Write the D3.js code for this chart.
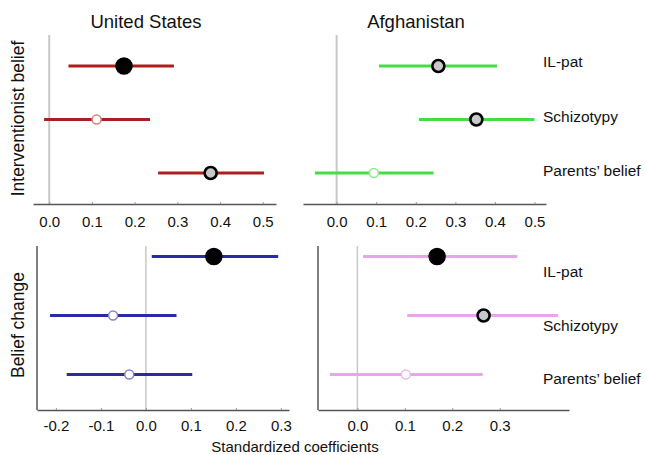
<!DOCTYPE html>
<html>
<head>
<meta charset="utf-8">
<script src="https://cdn.jsdelivr.net/npm/d3@7"></script>
<style>
body { margin: 0; background: #fff; }
text { font-family: "Liberation Sans", Arial, sans-serif; fill: #111; }
</style>
</head>
<body>
<svg width="646" height="455"></svg>
<script>
var svg = d3.select("svg");

var predictors = ["IL-pat", "Schizotypy", "Parents\u2019 belief"];

// estimates and 95% intervals, one array per panel
var usBelief = [0.175, 0.111, 0.378],
    usBeliefLo = [0.045, -0.012, 0.255],
    usBeliefHi = [0.292, 0.236, 0.503];
var afBelief = [0.257, 0.353, 0.094],
    afBeliefLo = [0.107, 0.208, -0.055],
    afBeliefHi = [0.405, 0.500, 0.245];
var usChange = [0.151, -0.073, -0.037],
    usChangeLo = [0.013, -0.213, -0.176],
    usChangeHi = [0.294, 0.068, 0.103];
var afChange = [0.168, 0.266, 0.102],
    afChangeLo = [0.012, 0.105, -0.058],
    afChangeHi = [0.337, 0.423, 0.264];

// marker type: "black" p<.001, "grey" p<.05, "open" n.s.
var usBeliefSig = ["black", "open", "grey"],
    afBeliefSig = ["grey", "grey", "open"],
    usChangeSig = ["black", "open", "open"],
    afChangeSig = ["black", "grey", "open"];

var ticksTop = [0, 0.1, 0.2, 0.3, 0.4, 0.5],
    ticksUsChange = [-0.2, -0.1, 0, 0.1, 0.2, 0.3],
    ticksAfChange = [0, 0.1, 0.2, 0.3];

var panels = [
  {est: usBelief, lo: usBeliefLo, hi: usBeliefHi, sig: usBeliefSig, ticks: ticksTop,
   domain: [-0.038, 0.531], x0: 33, x1: 276, y0: 35, y1: 204, rows: [66, 173],
   color: "#aa1f1f", light: "#d98080", leftAxis: false, labels: null, pad: 12},
  {est: afBelief, lo: afBeliefLo, hi: afBeliefHi, sig: afBeliefSig, ticks: ticksTop,
   domain: [-0.085, 0.529], x0: 303, x1: 546, y0: 35, y1: 204, rows: [66, 173],
   color: "#45dc45", light: "#8fe88f", leftAxis: false, labels: [62, 171], pad: 12},
  {est: usChange, lo: usChangeLo, hi: usChangeHi, sig: usChangeSig, ticks: ticksUsChange,
   domain: [-0.242, 0.318], x0: 37, x1: 289, y0: 246, y1: 410, rows: [256.5, 374.5],
   color: "#2a2aa6", light: "#8484cc", leftAxis: true, labels: null, pad: 10},
  {est: afChange, lo: afChangeLo, hi: afChangeHi, sig: afChangeSig, ticks: ticksAfChange,
   domain: [-0.083, 0.446], x0: 318, x1: 569, y0: 246, y1: 410, rows: [256.5, 374.5],
   color: "#e8a6e8", light: "#ecbcec", leftAxis: true, labels: [272, 379], pad: 10}
];

var fmt = d3.format(".1f");

panels.forEach(function(p) {
  var g = svg.append("g");

  var x = d3.scaleLinear().domain(p.domain).range([p.x0, p.x1]);
  var y = d3.scalePoint().domain(predictors).range(p.rows);

  // zero reference line
  g.append("line")
    .attr("x1", x(0)).attr("x2", x(0))
    .attr("y1", p.y0).attr("y2", p.y1)
    .attr("stroke", "#c8c8c8")
    .attr("stroke-width", p.leftAxis ? 1.5 : 2);

  var axis = g.append("g")
    .attr("transform", "translate(0," + p.y1 + ")")
    .call(d3.axisBottom(x).tickValues(p.ticks).tickSize(-2).tickPadding(p.pad)
      .tickFormat(function(d) { return fmt(d).replace("\u2212", "-"); })
      .tickSizeOuter(0));
  axis.select(".domain").attr("stroke", "#555").attr("stroke-width", 1.5);
  axis.selectAll(".tick line").attr("stroke", "#999");
  axis.selectAll(".tick text")
    .style("font-family", "Liberation Sans, Arial, sans-serif")
    .style("font-size", "15px").attr("fill", "#111");

  if (p.leftAxis) {
    g.append("line")
      .attr("x1", p.x0).attr("x2", p.x0)
      .attr("y1", p.y0).attr("y2", p.y1)
      .attr("stroke", "#555").attr("stroke-width", 1.5);
  }

  predictors.forEach(function(name, i) {
    var cy = y(name);
    g.append("line")
      .attr("x1", x(p.lo[i])).attr("x2", x(p.hi[i]))
      .attr("y1", cy).attr("y2", cy)
      .attr("stroke", p.color).attr("stroke-width", 2.8);

    var s = p.sig[i];
    g.append("circle")
      .attr("cx", x(p.est[i])).attr("cy", cy)
      .attr("r", s === "black" ? 8 : s === "grey" ? 6 : 4.5)
      .attr("fill", s === "black" ? "#000" : s === "grey" ? "#c8c8c8" : "#fff")
      .attr("stroke", s === "open" ? p.light : "#000")
      .attr("stroke-width", s === "grey" ? 2.6 : 1.5);
  });

  if (p.labels) {
    var ly = d3.scalePoint().domain(predictors).range(p.labels);
    g.selectAll(".lab").data(predictors).enter().append("text")
      .attr("x", 543).attr("y", function(d) { return ly(d); })
      .attr("dy", "0.35em")
      .style("font-size", "15.5px")
      .text(function(d) { return d; });
  }
});

svg.append("text").attr("x", 146).attr("y", 28).attr("text-anchor", "middle")
  .style("font-size", "18.5px").text("United States");
svg.append("text").attr("x", 416).attr("y", 28).attr("text-anchor", "middle")
  .style("font-size", "18.5px").text("Afghanistan");

svg.append("text").attr("transform", "translate(24,118.5) rotate(-90)")
  .attr("text-anchor", "middle").style("font-size", "17.5px").text("Interventionist belief");
svg.append("text").attr("transform", "translate(24,325) rotate(-90)")
  .attr("text-anchor", "middle").style("font-size", "17.5px").text("Belief change");

svg.append("text").attr("x", 295).attr("y", 452).attr("text-anchor", "middle")
  .style("font-size", "15px").text("Standardized coefficients");
</script>
</body>
</html>
